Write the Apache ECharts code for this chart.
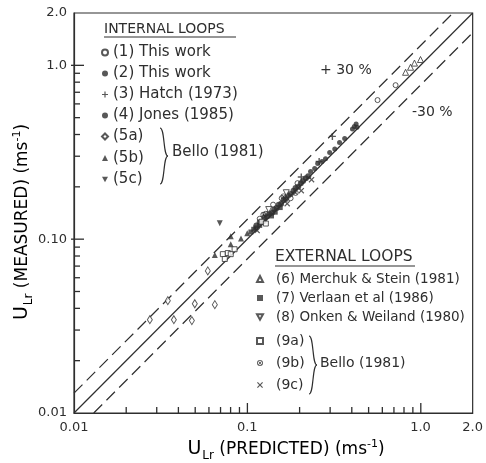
<!DOCTYPE html>
<html>
<head>
<meta charset="utf-8">
<script src="https://cdn.jsdelivr.net/npm/echarts@6/dist/echarts.min.js"></script>
<style>
  html, body { margin: 0; padding: 0; background: #fff; }
  #chart { width: 486px; height: 463px; }
</style>
</head>
<body>
<div id="chart"></div>
<script>
// ---- data: [predicted, measured] in m/s ----
const thisWorkOpen = [[0.565, 0.631], [0.718, 0.769], [0.141, 0.158], [0.158, 0.172], [0.178, 0.172],
  [0.128, 0.14], [0.118, 0.131], [0.195, 0.21]];
const thisWorkFilled = [[0.113, 0.12], [0.118, 0.125], [0.122, 0.126], [0.126, 0.133], [0.13, 0.135],
  [0.134, 0.14], [0.139, 0.142], [0.143, 0.148], [0.148, 0.151], [0.152, 0.158], [0.157, 0.16],
  [0.162, 0.168], [0.167, 0.17], [0.172, 0.178], [0.178, 0.182], [0.185, 0.19], [0.19, 0.197],
  [0.197, 0.2], [0.204, 0.21], [0.21, 0.216], [0.218, 0.224], [0.225, 0.23]];
const hatch = [[0.31, 0.39], [0.205, 0.228], [0.26, 0.28]];
const jones = [[0.232, 0.245], [0.245, 0.255], [0.255, 0.272], [0.27, 0.28], [0.283, 0.29],
  [0.299, 0.315], [0.32, 0.33], [0.341, 0.36], [0.365, 0.38], [0.405, 0.43], [0.415, 0.445],
  [0.425, 0.46], [0.43, 0.44]];
const bello5a = [[0.0348, 0.0443], [0.0274, 0.0344], [0.0377, 0.0344], [0.0498, 0.0425],
  [0.0479, 0.034], [0.065, 0.042], [0.0592, 0.0657]];
const bello5b = [[0.0803, 0.104], [0.0803, 0.0936], [0.1, 0.108], [0.065, 0.081], [0.092, 0.101]];
const bello5c = [[0.0694, 0.1234]];
const merchuk = [[1.0, 1.08], [0.923, 1.03], [0.876, 0.975], [0.82, 0.912]];
const verlaan = [[0.105, 0.11], [0.109, 0.114], [0.112, 0.116], [0.118, 0.12], [0.125, 0.127],
  [0.138, 0.136], [0.145, 0.143], [0.155, 0.152]];
const onken = [[0.133, 0.148], [0.168, 0.185]];
const bello9a = [[0.0723, 0.082], [0.0772, 0.0832], [0.0803, 0.082], [0.0742, 0.0769],
  [0.0845, 0.0875], [0.121, 0.126], [0.128, 0.123]];
const bello9b = [[0.124, 0.138], [0.162, 0.176], [0.19, 0.185]];
const bello9c = [[0.17, 0.16], [0.205, 0.19], [0.235, 0.22], [0.114, 0.112]];

// parity line and +/-30 % band
const parityLine = [[0.01, 0.01], [2.0, 2.0]];
const upperLine = [[0.01, 0.013], [1.54, 2.0]];
const lowerLine = [[0.013, 0.01], [2.0, 1.54]];

// axes and ticks
const axisMin = 0.01;
const axisMax = 2.0;
const xLabelValues = [0.01, 0.1, 1.0, 2.0];
const xLabelTexts = ['0.01', '0.1', '1.0', '2.0'];
const yLabelValues = [0.01, 0.1, 1.0, 2.0];
const yLabelTexts = ['0.01', '0.10', '1.0', '2.0'];
const majorTicks = [0.1, 1.0];
const minorTicks = [0.02, 0.03, 0.04, 0.05, 0.06, 0.07, 0.08, 0.09,
  0.2, 0.3, 0.4, 0.5, 0.6, 0.7, 0.8, 0.9];

const INK = '#2e2e2e';
const FONT = 'DejaVu Sans';
const GRID = { left: 74, right: 13, top: 13, bottom: 50 };
const W = 486, H = 463;

const plusSym = 'path://M4,0H6V4H10V6H6V10H4V6H0V4H4Z';
const crossSym = 'path://M1.4,0L5,3.6L8.6,0L10,1.4L6.4,5L10,8.6L8.6,10L5,6.4L1.4,10L0,8.6L3.6,5L0,1.4Z';
const downTri = 'path://M0,0L10,0L5,9Z';
const otimesSym = 'path://M5,0A5,5,0,1,1,5,10A5,5,0,1,1,5,0ZM5,1.4A3.6,3.6,0,1,0,5,8.6A3.6,3.6,0,1,0,5,1.4Z' +
  'M2.2,3.1L3.1,2.2L7.8,6.9L6.9,7.8ZM6.9,2.2L7.8,3.1L3.1,7.8L2.2,6.9Z';

function pts(name, data, symbol, size, empty) {
  return {
    name: name,
    type: 'scatter',
    data: data,
    symbol: symbol,
    symbolSize: size,
    itemStyle: empty
      ? { color: '#fff', borderColor: INK, borderWidth: 1 }
      : { color: INK },
    z: 5
  };
}

function refLine(data, dashed) {
  return {
    type: 'line',
    data: data,
    symbol: 'none',
    silent: true,
    lineStyle: { color: INK, width: 1.2, type: dashed ? [12, 6] : 'solid' },
    z: 2
  };
}

function legendBox(names, left, top, gap, textPad, fontSize) {
  return {
    data: names,
    orient: 'vertical',
    left: left,
    top: top,
    padding: 0,
    itemGap: gap,
    itemWidth: 6,
    itemHeight: 6,
    selectedMode: false,
    formatter: n => '{t|' + n + '}',
    textStyle: {
      fontFamily: FONT, fontSize: fontSize, color: INK, lineHeight: 14,
      rich: { t: { fontFamily: FONT, fontSize: fontSize, color: INK, lineHeight: 14, padding: [0, 0, 0, textPad] } }
    }
  };
}

function brace(x0, y0, y1) {
  const ym = (y0 + y1) / 2;
  const st = { stroke: INK, lineWidth: 1.2, fill: null };
  return [
    { type: 'bezierCurve', shape: { x1: x0, y1: y0, cpx1: x0 + 5, cpy1: y0, cpx2: x0 + 3, cpy2: ym, x2: x0 + 8, y2: ym }, style: st },
    { type: 'bezierCurve', shape: { x1: x0 + 8, y1: ym, cpx1: x0 + 3, cpy1: ym, cpx2: x0 + 5, cpy2: y1, x2: x0, y2: y1 }, style: st }
  ];
}

function label(text, x, y, size, align) {
  return {
    type: 'text', x: x, y: y,
    style: { text: text, fontFamily: FONT, fontSize: size, fill: INK,
      align: align || 'left', textAlign: align || 'left', verticalAlign: 'middle', textVerticalAlign: 'middle' }
  };
}

// inward tick marks on the log axes (same log mapping as the grid)
function logFrac(v) {
  return (Math.log10(v) - Math.log10(axisMin)) / (Math.log10(axisMax) - Math.log10(axisMin));
}
function tickMarks(values, len, onX, outside) {
  const x0 = GRID.left, y0 = H - GRID.bottom;
  const w = W - GRID.left - GRID.right, h = H - GRID.top - GRID.bottom;
  return values.map(v => {
    const shape = onX
      ? { x1: x0 + logFrac(v) * w, y1: y0 + outside, x2: x0 + logFrac(v) * w, y2: y0 - len }
      : { x1: x0 - outside, y1: y0 - logFrac(v) * h, x2: x0 + len, y2: y0 - logFrac(v) * h };
    return { type: 'line', shape: shape, style: { stroke: INK, lineWidth: 1.3 }, z: 10 };
  });
}

const titleRich = {
  b: { fontFamily: FONT, fontSize: 17, color: INK, verticalAlign: 'top', padding: [3, 0, 0, 0] },
  u: { fontFamily: FONT, fontSize: 19, color: INK, verticalAlign: 'top', padding: [1, 0, 0, 0] },
  s: { fontFamily: FONT, fontSize: 12, color: INK, verticalAlign: 'top', padding: [11, 0, 0, 1] },
  p: { fontFamily: FONT, fontSize: 11, color: INK, verticalAlign: 'top', padding: [0, 0, 0, 0] }
};

function logAxis(labelValues, labelTexts, margin) {
  return {
    type: 'log',
    logBase: 10,
    min: axisMin,
    max: axisMax,
    splitLine: { show: false },
    minorTick: { show: false },
    axisTick: { show: false },
    axisLine: { show: true, lineStyle: { color: INK, width: 1.2 } },
    axisLabel: {
      customValues: labelValues, margin: margin, fontFamily: FONT, fontSize: 13, color: INK,
      formatter: v => labelTexts[labelValues.findIndex(t => Math.abs(t - v) < 1e-9)]
    }
  };
}

const chart = echarts.init(document.getElementById('chart'));

chart.setOption({
  animation: false,
  backgroundColor: '#fff',
  grid: Object.assign({ show: true, borderColor: INK, borderWidth: 1.2 }, GRID),
  xAxis: logAxis(xLabelValues, xLabelTexts, 8),
  yAxis: logAxis(yLabelValues, yLabelTexts, 7),
  legend: [
    legendBox(['(1) This work', '(2) This work', '(3) Hatch (1973)', '(4) Jones (1985)'], 101, 45, 6, 0, 15),
    legendBox(['(5a)', '(5b)', '(5c)'], 101, 129, 6.5, 0, 15),
    legendBox(['(6) Merchuk & Stein (1981)', '(7) Verlaan et al (1986)', '(8) Onken & Weiland (1980)'], 256, 272, 5, 8, 13.5),
    legendBox(['(9a)', '(9b)', '(9c)'], 256, 334, 8, 8, 14)
  ],
  graphic: [
    label('INTERNAL LOOPS', 104, 29, 14),
    { type: 'line', shape: { x1: 104, y1: 37, x2: 236, y2: 37 }, style: { stroke: INK, lineWidth: 1.2 } },
    label('EXTERNAL LOOPS', 275, 257, 15.5),
    { type: 'line', shape: { x1: 275, y1: 266, x2: 415, y2: 266 }, style: { stroke: INK, lineWidth: 1.2 } },
    ...brace(160, 128, 184),
    label('Bello (1981)', 172, 152, 15),
    ...brace(309, 336, 394),
    label('Bello (1981)', 320, 363, 14),
    label('+ 30 %', 320, 70, 14),
    label('-30 %', 412, 112, 14),
    {
      type: 'text', x: 286, y: 450,
      style: {
        text: '{u|U}{s|Lr}{b| (PREDICTED) (ms}{p|-1}{b|)}', rich: titleRich,
        align: 'center', textAlign: 'center', verticalAlign: 'middle', textVerticalAlign: 'middle'
      }
    },
    {
      type: 'text', x: 23, y: 222, rotation: Math.PI / 2,
      style: {
        text: '{u|U}{s|Lr}{b| (MEASURED) (ms}{p|-1}{b|)}', rich: titleRich,
        align: 'center', textAlign: 'center', verticalAlign: 'middle', textVerticalAlign: 'middle'
      }
    },
    ...tickMarks(majorTicks, 10, true, 0),
    ...tickMarks(minorTicks, 6, true, 0),
    ...tickMarks(majorTicks, 10, false, 3),
    ...tickMarks(minorTicks, 6, false, 0)
  ],
  series: [
    refLine(parityLine, false),
    refLine(upperLine, true),
    refLine(lowerLine, true),
    pts('(1) This work', thisWorkOpen, 'circle', 5, true),
    pts('(2) This work', thisWorkFilled, 'circle', 6, false),
    pts('(3) Hatch (1973)', hatch, plusSym, 7, false),
    pts('(4) Jones (1985)', jones, 'circle', 5, false),
    pts('(5a)', bello5a, 'diamond', [5, 8], true),
    pts('(5b)', bello5b, 'triangle', 6, false),
    pts('(5c)', bello5c, downTri, 6, false),
    pts('(6) Merchuk & Stein (1981)', merchuk, 'triangle', 6, true),
    pts('(7) Verlaan et al (1986)', verlaan, 'rect', 5, false),
    pts('(8) Onken & Weiland (1980)', onken, downTri, 6, true),
    pts('(9a)', bello9a, 'rect', 5, true),
    pts('(9b)', bello9b, otimesSym, 6, false),
    pts('(9c)', bello9c, crossSym, 6, false)
  ]
});
</script>
</body>
</html>
